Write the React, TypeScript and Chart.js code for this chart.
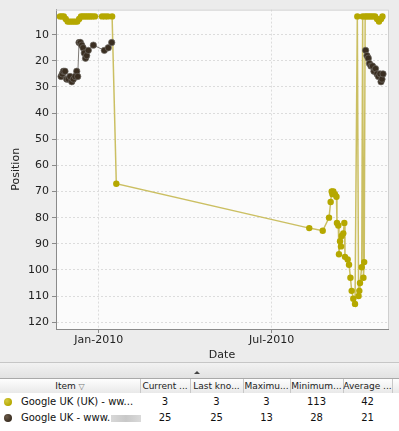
import React, { useEffect, useRef } from 'react';
import { Chart, registerables } from 'chart.js';

Chart.register(...registerables);

// ---- axis ticks ----
const xTickDays = [0, 181]; // days since 1 Jan 2010
const xTickLabels = ['Jan-2010', 'Jul-2010'];
const yTickValues = [10, 20, 30, 40, 50, 60, 70, 80, 90, 100, 110, 120];

// ---- series 1: Google UK (UK) (olive) ----
const oliveDays = [
  -40.5, -38.5, -36.5, -34.5, -32.5, -30.5, -28.5, -26.5, -24.5, -22.5, -20.5, -18.5,
  -16.5, -14.5, -12.5, -10.5, -8.5, -6.5, -4, 3.5, 6.5, 9.5, 14, 18.4,
  220.3, 234.4, 241.0, 242.7, 243.8, 244.6, 245.5, 247.2, 248.8, 249.3, 250.7, 251.4,
  252.5, 253.5, 254.2, 255.9, 257.0, 257.7, 260.5, 261.9, 263.4, 264.7, 266.4, 268.2,
  270.6, 271.9, 272.7, 273.4, 275.2, 276.2, 277.0, 277.8, 278.8, 280.7, 282.8, 284.9,
  287.0, 289.2, 291.3, 293.3, 295.4, 296.9,
];
const oliveRanks = [
  3, 3, 3, 4, 5, 5, 5, 5, 5, 5, 4, 3,
  3, 3, 3, 3, 3, 3, 3, 3, 3, 3, 3, 67,
  84, 85, 80, 74, 70, 71, 70, 71, 72, 82, 83, 94,
  89, 91, 87, 86, 82, 95, 96, 98, 103, 108, 111, 113,
  3, 110, 108, 105, 99, 3, 103, 97, 3, 3, 3, 3,
  3, 3, 4, 5, 4, 3,
];

// ---- series 2: Google UK (dark) ----
const darkDays = [
  -39.4, -38.1, -36.9, -35.3, -33.5, -31.8, -30.0, -28.2, -26.6, -24.8, -23.0, -22.0,
  -20.6, -19.2, -17.8, -16.4, -15.1, -13.8, -12.6, -10.9, -5.6, 5.9, 10.0, 13.6,
  150,
  279.3, 280.7, 282.1, 283.3, 284.9, 286.5, 288.0, 289.6, 291.2, 292.7, 294.3, 295.4,
  296.4, 297.5,
];
const darkRanks: (number | null)[] = [
  26, 25, 24, 24, 27, 27, 26, 28, 27, 26, 24, 26,
  13, 13, 14, 15, 17, 19, 18, 16, 14, 16, 15, 13,
  null,
  16, 18, 19, 21, 22, 22, 24, 23, 25, 26, 25, 28,
  27, 25,
];

// ---- table ----
const seriesNames = ['Google UK (UK) - ww...', 'Google UK - www.'];
const seriesColors = ['#b5a800', '#3a2e21'];
const tableHeaders = ['Current ...', 'Last kno...', 'Maximu...', 'Minimum...', 'Average ...'];
const currentVals = [3, 25];
const lastKnownVals = [3, 25];
const maximumVals = [3, 13];
const minimumVals = [113, 28];
const averageVals = [42, 21];

const FONT = "'DejaVu Sans', sans-serif";

const plotFrame = {
  id: 'plotFrame',
  beforeDraw(chart: any) {
    const { ctx, chartArea: a } = chart;
    ctx.save();
    ctx.fillStyle = '#fbfbfb';
    ctx.fillRect(a.left, a.top, a.right - a.left, a.bottom - a.top);
    ctx.restore();
  },
  beforeDatasetsDraw(chart: any) {
    const { ctx, chartArea: a } = chart;
    ctx.save();
    ctx.strokeStyle = '#cfcfcf';
    ctx.lineWidth = 1;
    ctx.beginPath();
    ctx.moveTo(a.left, a.top + 0.5);
    ctx.lineTo(a.right + 0.5, a.top + 0.5);
    ctx.lineTo(a.right + 0.5, a.bottom);
    ctx.stroke();
    ctx.restore();
  },
};

function ChartPanel() {
  const ref = useRef<HTMLCanvasElement | null>(null);
  useEffect(() => {
    if (!ref.current) return;
    const olive = oliveDays.map((d, i) => ({ x: d, y: oliveRanks[i] }));
    const dark = darkDays.map((d, i) => ({ x: d, y: darkRanks[i] }));
    const chart = new Chart(ref.current, {
      type: 'line',
      data: {
        datasets: [
          {
            label: seriesNames[1],
            data: dark as any,
            borderColor: 'rgba(105,100,95,0.85)',
            borderWidth: 1,
            pointRadius: 3.2,
            pointBackgroundColor: seriesColors[1],
            pointBorderColor: 'rgba(110,105,100,0.7)',
            pointBorderWidth: 1,
            tension: 0,
            spanGaps: false,
          },
          {
            label: seriesNames[0],
            data: olive as any,
            borderColor: 'rgba(200,188,90,0.95)',
            borderWidth: 1.5,
            pointRadius: 3.2,
            pointBackgroundColor: seriesColors[0],
            pointBorderColor: seriesColors[0],
            pointBorderWidth: 0,
            tension: 0,
          },
        ],
      },
      options: {
        animation: false,
        responsive: false,
        devicePixelRatio: 1,
        layout: { padding: { top: 7, right: 11, left: 0, bottom: 0 } },
        plugins: { legend: { display: false }, tooltip: { enabled: false } },
        scales: {
          x: {
            type: 'linear',
            min: -44.7,
            max: 302.7,
            afterBuildTicks: (s: any) => {
              s.ticks = xTickDays.map((v) => ({ value: v }));
            },
            afterFit: (s: any) => {
              s.height = 33;
            },
            ticks: {
              callback: (v: any) => {
                const i = xTickDays.indexOf(Number(v));
                return i >= 0 ? xTickLabels[i] : '';
              },
              font: { family: FONT, size: 11 },
              color: '#222',
              padding: 1,
              maxRotation: 0,
              autoSkip: false,
            },
            grid: {
              color: '#dcdcdc',
              tickColor: '#8a8a8a',
              tickLength: 4,
              tickBorderDash: [],
            },
            border: { color: '#8a8a8a', dash: [2, 2] },
            title: {
              display: true,
              text: 'Date',
              font: { family: FONT, size: 11 },
              color: '#222',
              padding: { top: 0, bottom: 0 },
            },
          },
          y: {
            type: 'linear',
            reverse: true,
            min: 0.4,
            max: 122.6,
            afterBuildTicks: (s: any) => {
              s.ticks = yTickValues.map((v) => ({ value: v }));
            },
            afterFit: (s: any) => {
              s.width = 56;
            },
            ticks: {
              font: { family: FONT, size: 11 },
              color: '#222',
              padding: 3,
            },
            grid: {
              color: '#dcdcdc',
              tickColor: '#8a8a8a',
              tickLength: 4,
              tickBorderDash: [],
            },
            border: { color: '#8a8a8a', dash: [2, 2] },
            title: {
              display: true,
              text: 'Position',
              font: { family: FONT, size: 11 },
              color: '#222',
              padding: { top: 10, bottom: 0 },
            },
          },
        },
      },
      plugins: [plotFrame],
    } as any);
    return () => chart.destroy();
  }, []);
  return <canvas ref={ref} width={399} height={362} style={{ display: 'block', width: 399, height: 362 }} />;
}

const cols = [
  { l: 140, r: 190 },
  { l: 190, r: 243 },
  { l: 243, r: 290 },
  { l: 290, r: 343 },
  { l: 343, r: 392 },
];

export default function App() {
  const rowVals = [0, 1].map((i) => [currentVals[i], lastKnownVals[i], maximumVals[i], minimumVals[i], averageVals[i]]);
  return (
    <div
      style={{
        position: 'fixed',
        left: 0,
        top: 0,
        width: 399,
        height: 431,
        overflow: 'hidden',
        background: '#ececec',
        fontFamily: FONT,
      }}
    >
      <ChartPanel />
      {/* splitter */}
      <div
        style={{
          position: 'absolute',
          left: 0,
          top: 362,
          width: 399,
          height: 15,
          borderTop: '1px solid #c6c6c6',
          background: 'linear-gradient(#f2f2f2, #e2e2e2)',
        }}
      >
        <div
          style={{
            position: 'absolute',
            left: 194,
            top: 8,
            width: 0,
            height: 0,
            borderLeft: '3px solid transparent',
            borderRight: '3px solid transparent',
            borderBottom: '3px solid #444',
          }}
        />
      </div>
      {/* header */}
      <div
        style={{
          position: 'absolute',
          left: 0,
          top: 378,
          width: 399,
          height: 14,
          borderTop: '1px solid #a9a9a9',
          borderBottom: '1px solid #b9b9b9',
          background: 'linear-gradient(#fefefe, #e9e9e9)',
          fontSize: 9,
          lineHeight: '14px',
          color: '#222',
        }}
      >
        <div style={{ position: 'absolute', left: 0, width: 140, textAlign: 'center', borderRight: '1px solid #c8c8c8', height: 14 }}>
          Item <span style={{ fontSize: 8, color: '#777' }}>▽</span>
        </div>
        {tableHeaders.map((h, i) => (
          <div
            key={h}
            style={{
              position: 'absolute',
              left: cols[i].l,
              width: cols[i].r - cols[i].l,
              textAlign: 'center',
              borderRight: '1px solid #c8c8c8',
              height: 14,
              whiteSpace: 'nowrap',
              overflow: 'hidden',
            }}
          >
            {h}
          </div>
        ))}
      </div>
      {/* rows */}
      <div style={{ position: 'absolute', left: 0, top: 393, width: 399, height: 38, background: '#ffffff' }}>
        {[0, 1].map((r) => (
          <div
            key={r}
            style={{ position: 'absolute', left: 0, top: 1 + r * 16, width: 399, height: 16, fontSize: 10, lineHeight: '16px', color: '#111' }}
          >
            <div
              style={{
                position: 'absolute',
                left: 4,
                top: 4,
                width: 8,
                height: 8,
                borderRadius: 4,
                background: `radial-gradient(circle at 35% 35%, ${r === 0 ? '#d4ca40' : '#6a5a48'}, ${seriesColors[r]} 70%)`,
              }}
            />
            <div style={{ position: 'absolute', left: 21, whiteSpace: 'nowrap' }}>
              {seriesNames[r]}
              {r === 1 && (
                <span
                  style={{
                    display: 'inline-block',
                    width: 30,
                    height: 7,
                    marginLeft: 1,
                    background: 'linear-gradient(90deg, #d8d8d8, #c8c8c8, #dadada)',
                    verticalAlign: 'middle',
                  }}
                />
              )}
            </div>
            {rowVals[r].map((v, c) => (
              <div key={c} style={{ position: 'absolute', left: cols[c].l, width: cols[c].r - cols[c].l, textAlign: 'center' }}>
                {v}
              </div>
            ))}
          </div>
        ))}
      </div>
    </div>
  );
}
